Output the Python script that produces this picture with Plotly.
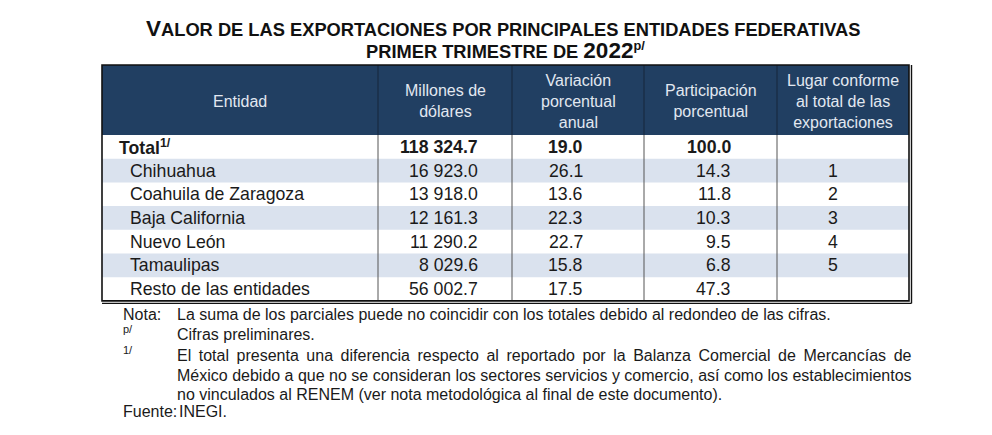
import plotly.graph_objects as go

# ---------------- data ----------------
entidades = ["Total", "Chihuahua", "Coahuila de Zaragoza", "Baja California",
             "Nuevo León", "Tamaulipas", "Resto de las entidades"]
millones = [118324.7, 16923.0, 13918.0, 12161.3, 11290.2, 8029.6, 56002.7]
variacion = [19.0, 26.1, 13.6, 22.3, 22.7, 15.8, 17.5]
participacion = [100.0, 14.3, 11.8, 10.3, 9.5, 6.8, 47.3]
lugar = [None, 1, 2, 3, 4, 5, None]
encabezados = ["Entidad", "Millones de<br>dólares", "Variación<br>porcentual<br>anual",
               "Participación<br>porcentual", "Lugar conforme<br>al total de las<br>exportaciones"]

titulo1 = "VALOR DE LAS EXPORTACIONES POR PRINCIPALES ENTIDADES FEDERATIVAS"
titulo2 = "PRIMER TRIMESTRE DE "
anio = "2022"

notas = [
    ("Nota:", "La suma de los parciales puede no coincidir con los totales debido al redondeo de las cifras."),
    ("p/", "Cifras preliminares."),
    ("1/", "El total presenta una diferencia respecto al reportado por la Balanza Comercial de Mercancías de"),
    ("", "México debido a que no se consideran los sectores servicios y comercio, así como los establecimientos"),
    ("", "no vinculados al RENEM (ver nota metodológica al final de este documento)."),
    ("Fuente:", "INEGI."),
]

# ---------------- layout constants ----------------
W, H = 992, 435
OFF = 8  # default page body margin
FONT = "Liberation Sans, Arial, sans-serif"
HEADER_BG = "#213f62"
HEADER_TXT = "#e2e8f1"
BAND = "#dae2ee"
TXT = "#1a1a1a"

X0, X1 = 102, 909
COLS = [102, 378, 512, 644, 777, 909]
HEAD_TOP, HEAD_BOT = 65, 135
ROW_H = 23.7

fig = go.Figure()
fig.add_trace(go.Scatter(x=[OFF, W - OFF], y=[OFF, H - OFF], mode="markers", marker=dict(opacity=0),
                         hoverinfo="skip", showlegend=False))

shapes = []
ann = []

def A(x, y, text, size=17.7, color=TXT, xanchor="left", yanchor="middle", bold=False, align="left"):
    ann.append(dict(x=x, y=y, xref="x", yref="y", text=(f"<b>{text}</b>" if bold else text),
                    showarrow=False, xanchor=xanchor, yanchor=yanchor, align=align,
                    font=dict(family=FONT, size=size, color=color)))

# title
A(503, 28, f"<span style='font-size:22.5px'>V</span>{titulo1[1:]}", size=18.3, color="#111",
  xanchor="center", bold=True)
A(505, 50, f"{titulo2}<span style='font-size:22.5px'>{anio}</span><sup>p/</sup>", size=18.3, color="#111",
  xanchor="center", bold=True)

# header
shapes.append(dict(type="rect", x0=X0, x1=X1, y0=HEAD_TOP, y1=HEAD_BOT, xref="x", yref="y",
                   fillcolor=HEADER_BG, line=dict(width=0), layer="below"))
for i, h in enumerate(encabezados):
    A((COLS[i] + COLS[i + 1]) / 2, (HEAD_TOP + HEAD_BOT) / 2 + 1, h, size=16, color=HEADER_TXT,
      xanchor="center", align="center")

# bands + rows
n = len(entidades)
for i in range(n):
    y0 = HEAD_BOT + i * ROW_H
    yc = y0 + ROW_H / 2
    if i % 2 == 1:
        shapes.append(dict(type="rect", x0=X0, x1=X1, y0=y0, y1=y0 + ROW_H, xref="x", yref="y",
                           fillcolor=BAND, line=dict(width=0), layer="below"))
    bold = (i == 0)
    name = entidades[i] + ("<sup>1/</sup>" if i == 0 else "")
    A(117 if i == 0 else 128, yc, name, bold=bold)
    A(480, yc, f"{millones[i]:,.1f}".replace(",", " "), xanchor="right", bold=bold)
    A(585, yc, f"{variacion[i]:.1f}", xanchor="right", bold=bold)
    A(733, yc, f"{participacion[i]:.1f}", xanchor="right", bold=bold)
    if lugar[i] is not None:
        A(833, yc, str(lugar[i]), xanchor="center")

TBL_BOT = HEAD_BOT + n * ROW_H

# vertical separators
for x in COLS[1:-1]:
    shapes.append(dict(type="line", x0=x, x1=x, y0=HEAD_TOP, y1=HEAD_BOT, xref="x", yref="y",
                       line=dict(color="#16273b", width=1)))
    shapes.append(dict(type="line", x0=x, x1=x, y0=HEAD_BOT, y1=TBL_BOT, xref="x", yref="y",
                       line=dict(color="#555555", width=1)))
# frame
shapes.append(dict(type="rect", x0=X0, x1=X1, y0=HEAD_TOP, y1=TBL_BOT, xref="x", yref="y",
                   line=dict(color="#111", width=1.6)))
shapes.append(dict(type="line", x0=X0, x1=X1 + 2.5, y0=TBL_BOT + 2.5, y1=TBL_BOT + 2.5, xref="x", yref="y",
                   line=dict(color="#111", width=1.4)))
shapes.append(dict(type="line", x0=X1 + 2.5, x1=X1 + 2.5, y0=HEAD_TOP, y1=TBL_BOT + 2.5, xref="x", yref="y",
                   line=dict(color="#111", width=1.4)))

# notes
note_y = [314, 334, 355, 375, 394, 411]
word_sp = [0, 0, 3.1, 0, 0, 0]
for (lab, txt), y, ws in zip(notas, note_y, word_sp):
    if lab in ("p/", "1/"):
        A(121, y - 5, lab, size=11)
    elif lab:
        A(121, y, lab, size=16)
    body = f"<span style='word-spacing:{ws}px'>{txt}</span>" if ws else txt
    A(177 if lab == "Fuente:" else 175, y, body, size=16)

fig.update_layout(
    width=W - 2 * OFF, height=H - 2 * OFF, margin=dict(l=0, r=0, t=0, b=0),
    paper_bgcolor="white", plot_bgcolor="white",
    xaxis=dict(range=[OFF, W - OFF], visible=False, fixedrange=True),
    yaxis=dict(range=[H - OFF, OFF], visible=False, fixedrange=True),
    shapes=shapes, annotations=ann, showlegend=False,
)
fig.write_html("out.html")
